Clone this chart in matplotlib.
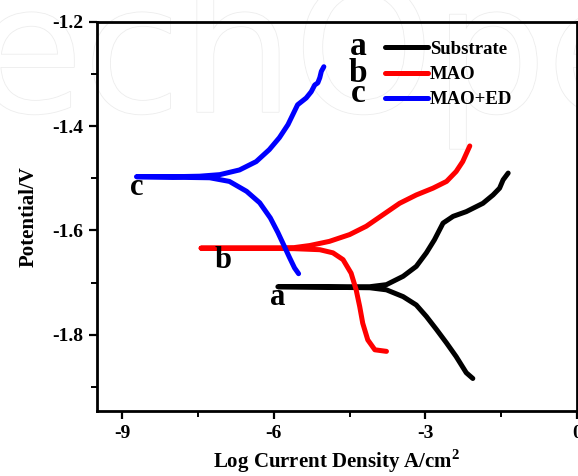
import matplotlib
matplotlib.use('Agg')
import matplotlib.pyplot as plt
import matplotlib.patheffects as pe
from matplotlib.ticker import MultipleLocator

plt.rcParams['font.family'] = ['Liberation Serif', 'DejaVu Serif']
plt.rcParams['font.weight'] = 'bold'
plt.rcParams['axes.labelweight'] = 'bold'
plt.rcParams['mathtext.fontset'] = 'custom'
plt.rcParams['mathtext.bf'] = 'Liberation Serif:bold'
plt.rcParams['mathtext.rm'] = 'Liberation Serif:bold'

# Tafel curves: log i (A/cm2) vs potential (V)
# each path goes cathodic end -> corrosion tip -> anodic end
sub_x = [-2.06, -2.19, -2.39, -2.58, -2.78, -2.98, -3.18, -3.44, -3.77, -4.10, -5.00, -5.92,
         -5.00, -4.10, -3.77, -3.44, -3.18, -2.98, -2.82, -2.65, -2.45, -2.19, -1.86, -1.66,
         -1.53, -1.46, -1.36]
sub_y = [-1.884, -1.873, -1.842, -1.816, -1.790, -1.765, -1.743, -1.727, -1.714, -1.710, -1.709, -1.708,
         -1.708, -1.708, -1.704, -1.688, -1.669, -1.643, -1.618, -1.586, -1.573, -1.564, -1.548, -1.532,
         -1.519, -1.503, -1.490]

mao_x = [-3.77, -4.00, -4.14, -4.24, -4.30, -4.37, -4.47, -4.63, -4.83, -5.09, -5.60, -6.50, -7.44,
         -6.50, -5.60, -5.29, -4.90, -4.50, -4.17, -3.84, -3.51, -3.18, -2.85, -2.58, -2.39,
         -2.26, -2.12]
mao_y = [-1.832, -1.829, -1.810, -1.778, -1.746, -1.714, -1.682, -1.656, -1.643, -1.637, -1.635, -1.634, -1.634,
         -1.634, -1.633, -1.629, -1.621, -1.608, -1.592, -1.570, -1.548, -1.532, -1.519, -1.506, -1.487,
         -1.468, -1.438]

ed_x = [-5.51, -5.59, -5.69, -5.79, -5.92, -6.07, -6.28, -6.54, -6.88, -7.27, -8.00, -8.72,
        -8.00, -7.47, -7.07, -6.68, -6.35, -6.09, -5.89, -5.72, -5.53, -5.36, -5.26, -5.19,
        -5.13, -5.09, -5.06, -5.01]
ed_y = [-1.683, -1.672, -1.652, -1.631, -1.604, -1.576, -1.547, -1.525, -1.506, -1.499, -1.498, -1.497,
        -1.497, -1.496, -1.493, -1.484, -1.468, -1.445, -1.422, -1.397, -1.359, -1.346, -1.334, -1.321,
        -1.317, -1.307, -1.295, -1.286]

names = ['Substrate', 'MAO', 'MAO+ED']
letters = ['a', 'b', 'c']
colors = ['black', 'red', 'blue']
# where the curve letters sit (data units)
tag_x = [-5.92, -7.0, -8.72]
tag_y = [-1.728, -1.657, -1.518]

fig = plt.figure(figsize=(5.78, 4.76), dpi=100)

# faint publisher watermark behind the axes
fig.text(-0.045, 0.765, 'echOpen', fontsize=128, family='DejaVu Sans', weight='normal',
         color='white', zorder=-5,
         path_effects=[pe.withStroke(linewidth=1.2, foreground='#ededed')])

ax = fig.add_axes([0.168, 0.137, 0.830, 0.817])
ax.set_facecolor('none')

lines = []
for xs, ys, c, n in zip([sub_x, mao_x, ed_x], [sub_y, mao_y, ed_y], colors, names):
    ln, = ax.plot(xs, ys, color=c, lw=3.6, label=n, solid_joinstyle='round',
                  solid_capstyle='round')
    lines.append(ln)

for t, x, y in zip(letters, tag_x, tag_y):
    ax.text(x, y, t, fontsize=22, ha='center', va='center')

ax.set_xlim(-9.5, 0)
ax.set_ylim(-1.946, -1.2)
ax.xaxis.set_minor_locator(MultipleLocator(1.5))
ax.yaxis.set_minor_locator(MultipleLocator(0.1))
ax.set_xticks([-9, -6, -3, 0])
ax.set_xticklabels(['-9', '-6', '-3', '0'])
ax.set_yticks([-1.2, -1.4, -1.6, -1.8])
ax.set_yticklabels(['-1.2', '-1.4', '-1.6', '-1.8'])
ax.tick_params(which='major', direction='out', length=6, width=1.6, labelsize=14, pad=4)
ax.tick_params(which='minor', direction='out', length=4, width=1.4)
for s in ax.spines.values():
    s.set_linewidth(2)

ax.set_xlabel('Log Current Density A/cm$^{\\mathbf{2}}$', fontsize=15, labelpad=4)
ax.set_ylabel('Potential/V', fontsize=15, labelpad=10)

ax.legend(handles=lines, loc='upper left', bbox_to_anchor=(0.60, 0.952), frameon=False,
          fontsize=13.5, handlelength=2.3, handletextpad=0.1, labelspacing=0.44,
          borderpad=0, borderaxespad=0)
for t, yy in zip(letters, [0.915, 0.846, 0.794]):
    ax.text(0.544, yy, t, transform=ax.transAxes, fontsize=24,
            ha='center', va='baseline')

fig.savefig('out.png', dpi=100)
